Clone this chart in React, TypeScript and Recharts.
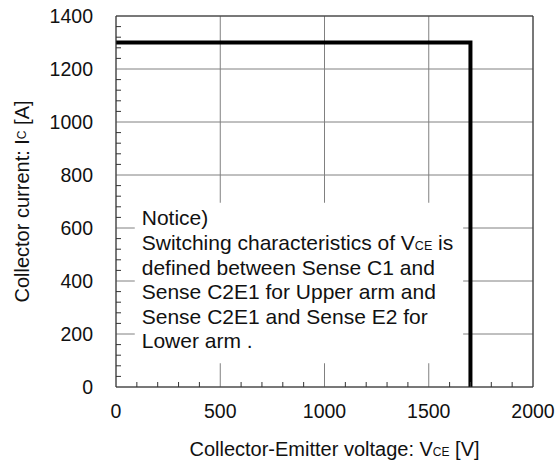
import React from "react";
import {
  ComposedChart,
  Line,
  XAxis,
  YAxis,
  CartesianGrid,
  ReferenceArea,
  ReferenceLine,
  Label,
} from "recharts";

// switching safe operating area: VCE [V] vs IC [A]
const voltage = [0, 1700, 1700];
const current = [1300, 1300, 0];

const xMajorTicks = [0, 500, 1000, 1500, 2000];
const xAllTicks = [
  0, 100, 200, 300, 400, 500, 600, 700, 800, 900, 1000, 1100, 1200, 1300, 1400,
  1500, 1600, 1700, 1800, 1900, 2000,
];
const yMajorTicks = [0, 200, 400, 600, 800, 1000, 1200, 1400];
const yAllTicks = [
  0, 40, 80, 120, 160, 200, 240, 280, 320, 360, 400, 440, 480, 520, 560, 600,
  640, 680, 720, 760, 800, 840, 880, 920, 960, 1000, 1040, 1080, 1120, 1160,
  1200, 1240, 1280, 1320, 1360, 1400,
];

// each line: [text, subscript, text]
const noticeLines: Array<[string, string, string]> = [
  ["Notice)", "", ""],
  ["Switching characteristics of V", "CE", " is"],
  ["defined between Sense C1 and", "", ""],
  ["Sense C2E1 for Upper arm and", "", ""],
  ["Sense C2E1 and Sense E2 for", "", ""],
  ["Lower arm .", "", ""],
];
const noticeBox = { x1: 90, x2: 1665, y1: 90, y2: 695 };

const data = voltage.map((v, i) => ({ vce: v, ic: current[i] }));

const FONT = "'Liberation Sans', Arial, sans-serif";
const AXIS = "#333";
const GRID = "#808080";
const TEXT = "#111";

function XTick(props: any) {
  const { x, y, payload } = props;
  const v = payload.value;
  if (xMajorTicks.includes(v)) {
    return (
      <text x={x} y={y + 31} textAnchor="middle" fontSize={19.5} fontFamily={FONT} fill={TEXT}>
        {v}
      </text>
    );
  }
  return <line x1={x} x2={x} y1={y} y2={y - 5} stroke={AXIS} />;
}

function YTick(props: any) {
  const { x, y, payload } = props;
  const v = payload.value;
  if (yMajorTicks.includes(v)) {
    return (
      <text x={x - 23} y={y + 7} textAnchor="end" fontSize={19.5} fontFamily={FONT} fill={TEXT}>
        {v}
      </text>
    );
  }
  return <line x1={x} x2={x + 5} y1={y} y2={y} stroke={AXIS} />;
}

function renderXTitle(props: any) {
  const { x, y, width } = props.viewBox;
  return (
    <text x={x + width / 2 + 10} y={y + 69} textAnchor="middle" fontSize={20} fontFamily={FONT} fill={TEXT}>
      Collector-Emitter voltage: V<tspan fontSize={12}>CE</tspan> [V]
    </text>
  );
}

function renderYTitle(props: any) {
  const { y, height } = props.viewBox;
  const cx = 22;
  const cy = y + height / 2;
  return (
    <text
      x={cx}
      y={cy}
      transform={`rotate(-90 ${cx} ${cy})`}
      textAnchor="middle"
      dominantBaseline="central"
      fontSize={20}
      fontFamily={FONT}
      fill={TEXT}
    >
      Collector current: I<tspan fontSize={12}>C</tspan> [A]
    </text>
  );
}

function renderNotice(props: any) {
  const { x, y } = props.viewBox;
  return (
    <g>
      {noticeLines.map(([a, sub, b], i) => (
        <text key={i} x={x + 7} y={y + 22.5 + i * 24.6} fontSize={21} fontFamily={FONT} fill={TEXT}>
          {a}
          {sub && <tspan fontSize={12.5}>{sub}</tspan>}
          {b}
        </text>
      ))}
    </g>
  );
}

export default function App() {
  return (
    <div style={{ position: "absolute", left: 0, top: 0, width: 560, height: 461, background: "#fff" }}>
      <ComposedChart width={560} height={461} data={data} margin={{ top: 16, right: 27, bottom: 0, left: 0 }}>
        <CartesianGrid
          stroke={GRID}
          horizontalValues={yMajorTicks}
          verticalValues={xMajorTicks}
        />
        <XAxis
          dataKey="vce"
          type="number"
          domain={[0, 2000]}
          ticks={xAllTicks}
          interval={0}
          tickSize={0}
          tickMargin={0}
          tickLine={false}
          tick={<XTick />}
          height={74}
          axisLine={{ stroke: AXIS }}
        >
          <Label content={renderXTitle} />
        </XAxis>
        <YAxis
          type="number"
          domain={[0, 1400]}
          ticks={yAllTicks}
          interval={0}
          tickSize={0}
          tickMargin={0}
          tickLine={false}
          tick={<YTick />}
          width={116}
          axisLine={{ stroke: AXIS }}
        >
          <Label content={renderYTitle} />
        </YAxis>
        <ReferenceLine y={1400} stroke={AXIS} />
        <ReferenceLine x={2000} stroke={AXIS} />
        <ReferenceArea
          x1={noticeBox.x1}
          x2={noticeBox.x2}
          y1={noticeBox.y1}
          y2={noticeBox.y2}
          fill="#fff"
          fillOpacity={1}
          stroke="none"
        >
          <Label content={renderNotice} />
        </ReferenceArea>
        <Line
          dataKey="ic"
          type="linear"
          stroke="#000"
          strokeWidth={4}
          dot={false}
          activeDot={false}
          isAnimationActive={false}
        />
      </ComposedChart>
    </div>
  );
}
